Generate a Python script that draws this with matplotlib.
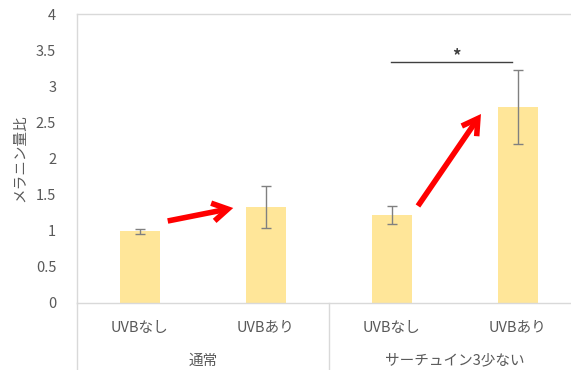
import matplotlib
matplotlib.use('Agg')
import matplotlib.pyplot as plt
import numpy as np

plt.rcParams['font.family'] = ['Noto Sans CJK JP', 'DejaVu Sans']

# bar data: melanin ratio per condition
labels = ['UVBなし', 'UVBあり', 'UVBなし', 'UVBあり']
groups = ['通常', 'サーチュイン3少ない']
values = [0.99, 1.33, 1.22, 2.71]
errors = [0.03, 0.29, 0.12, 0.51]

bar_color = '#FFE699'
text_color = '#595959'
line_color = '#D9D9D9'

fig = plt.figure(figsize=(5.71, 3.70), dpi=100)
# axis box runs a little past the right edge of the figure
ax = fig.add_axes([77 / 571, 67 / 370, 504 / 571, 289 / 370])

x = np.arange(len(values))
ax.bar(x, values, width=0.31, color=bar_color, zorder=2)
ax.errorbar(x, values, yerr=errors, fmt='none', ecolor='#808080',
            elinewidth=1, capsize=3.5, capthick=1, zorder=3)

ax.set_xlim(-0.5, 3.5)
ax.set_ylim(0, 4)
ax.set_yticks(np.arange(0, 4.01, 0.5))
ax.set_yticklabels(['0', '0.5', '1', '1.5', '2', '2.5', '3', '3.5', '4'])
ax.tick_params(axis='y', length=0, pad=15, labelsize=10.5, labelcolor=text_color)
ax.set_xticks([])

for side in ['left', 'top', 'bottom', 'right']:
    ax.spines[side].set_color(line_color)
    ax.spines[side].set_linewidth(1)

ax.set_ylabel('メラニン量比', fontsize=10.5, color=text_color, labelpad=6)

# category labels and group labels below the axis
trans = ax.get_xaxis_transform()
for xi, lab in zip(x, labels):
    ax.text(xi, -0.085, lab, transform=trans, ha='center', va='center',
            fontsize=10.5, color=text_color, clip_on=False)
for gi, g in enumerate(groups):
    ax.text(gi * 2 + 0.5, -0.2, g, transform=trans, ha='center', va='center',
            fontsize=10.5, color=text_color, clip_on=False)
for sx in [-0.5, 1.5]:
    ax.plot([sx, sx], [0, -0.25], transform=trans, color=line_color,
            lw=1, clip_on=False)

# red arrows
arrow_props = dict(arrowstyle='->,head_length=1.1,head_width=0.65',
                   color='#FF0000', lw=4, shrinkA=0, shrinkB=0,
                   joinstyle='miter', capstyle='butt')
ax.annotate('', xy=(0.74, 1.315), xytext=(0.22, 1.135), arrowprops=arrow_props, zorder=4)
ax.annotate('', xy=(2.706, 2.616), xytext=(2.206, 1.343), arrowprops=arrow_props, zorder=4)

# significance marker
ax.plot([1.99, 2.95], [3.33, 3.33], color='#404040', lw=1, zorder=4)
ax.text(2.508, 3.42, '*', ha='center', va='center', fontsize=12,
        fontweight='bold', color='#404040')

fig.savefig('out.png', dpi=100)
